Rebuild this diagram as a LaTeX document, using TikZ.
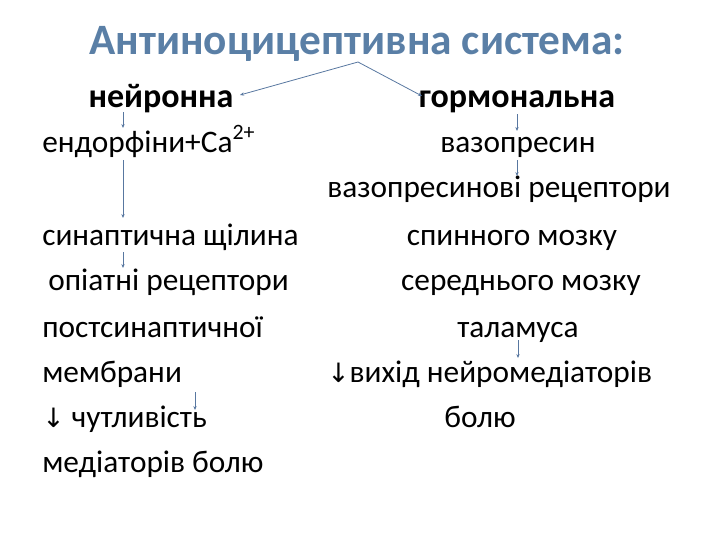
\documentclass[tikz,border=0pt]{standalone}
\usepackage{fontspec}
\usetikzlibrary{arrows.meta}
\setmainfont{Carlito}
\newfontfamily\dvs{DejaVu Sans}
\definecolor{ttl}{HTML}{5A7FA6}
\definecolor{arr}{HTML}{5877A0}
\begin{document}
\begin{tikzpicture}[x=0.75pt,y=-0.75pt,
  txt/.style={inner sep=0pt,anchor=base,font=\fontsize{23.5}{25}\selectfont},
  txl/.style={txt,anchor=base west},
  hd/.style={inner sep=0pt,anchor=base,font=\fontsize{25.5}{27}\bfseries\selectfont},
  con/.style={draw=arr,line width=0.6pt,-{Stealth[length=3pt,width=2.5pt]}}]
\useasboundingbox (0,0) rectangle (720,540);
\node[inner sep=0pt,anchor=base,text=ttl,font=\fontsize{32.5}{34}\bfseries\selectfont] (t) at (357,54) {Антиноцицептивна система:};
\node[hd] (n) at (161,107) {нейронна};
\node[hd] (g) at (517,107) {гормональна};
\node[txl] (l1) at (42,152) {ендорфіни+Ca\textsuperscript{2+}};
\node[txl] (l2) at (42,245) {синаптична щілина};
\node[txl] (l3) at (48,290) {опіатні рецептори};
\node[txl] (l4) at (42,337) {постсинаптичної};
\node[txl] (l5) at (42,382) {мембрани};
\node[txl] (l6) at (42,427) {{\dvs\fontsize{20}{22}\selectfont ↓} чутливість};
\node[txl] (l7) at (42,472) {медіаторів болю};
\node[txt] (r1) at (518,152) {вазопресин};
\node[txt] (r2) at (499,197) {вазопресинові рецептори};
\node[txt] (r3) at (512,245) {спинного мозку};
\node[txt] (r4) at (521,290) {середнього мозку};
\node[txt] (r5) at (518,337) {таламуса};
\node[txl] (r6) at (327,382) {{\dvs\fontsize{20}{22}\selectfont ↓}вихід нейромедіаторів};
\node[txt] (r7) at (480,427) {болю};
\coordinate (top) at (358,62);
\coordinate (a1) at (240,95); \coordinate (a2) at (422,96);
\draw[con] (top) -- (a1);
\draw[con] (top) -- (a2);
\draw[con] (123,112) -- (123,128);
\draw[con] (123,160) -- (123,218);
\draw[con] (123,252) -- (123,268);
\draw[con] (195,392) -- (195,410);
\draw[con] (517,114) -- (517,131);
\draw[con] (517,160) -- (517,176);
\draw[con] (518,340) -- (518,358);
\end{tikzpicture}
\end{document}
